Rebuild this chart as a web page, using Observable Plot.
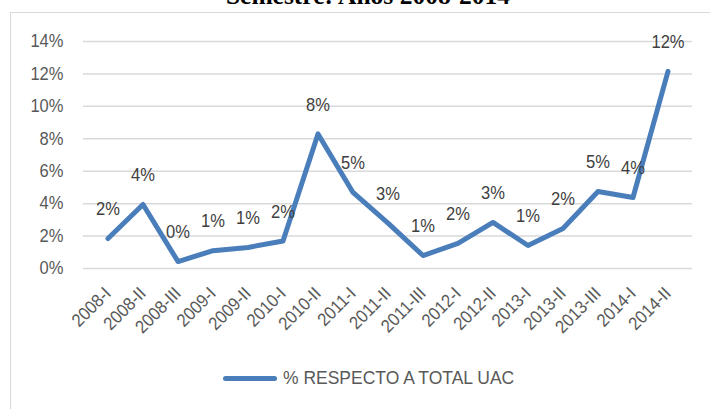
<!DOCTYPE html>
<html>
<head>
<meta charset="utf-8">
<script src="https://cdn.jsdelivr.net/npm/d3@7"></script>
<script src="https://cdn.jsdelivr.net/npm/@observablehq/plot@0.6"></script>
<style>
  html, body { margin: 0; padding: 0; background: #fff; }
  #wrap { position: relative; width: 710px; height: 409px; overflow: hidden; background: #fff; }
  #title { position: absolute; left: 0; width: 736px; top: -19px; text-align: center;
           font-family: "Liberation Serif", "DejaVu Serif", serif; font-weight: bold; font-size: 25.5px; color: #000; white-space: nowrap; }
  #frame { position: absolute; left: 10px; top: 12px; width: 800px; height: 500px;
           border: 1.5px solid #d9d9d9; box-sizing: border-box; }
  #chart { position: absolute; left: 0; top: 0; }
  #legend { position: absolute; left: 223px; top: 367px; display: flex; align-items: center;
            font-family: "Liberation Sans", Arial, sans-serif;
            font-size: 19px; color: #595959; white-space: nowrap; }
  #legend .sw { width: 54px; height: 5px; border-radius: 3px; background: #4a7ebb; margin-right: 6px; }
  #legend span { display: inline-block; transform: scaleX(0.92); transform-origin: 0 50%; }
</style>
</head>
<body>
<div id="wrap">
  <div id="title">Semestre: Años 2008-2014</div>
  <div id="frame"></div>
  <div id="chart"></div>
  <div id="legend"><div class="sw"></div><span>% RESPECTO A TOTAL UAC</span></div>
</div>
<script>
const categories = ["2008-I","2008-II","2008-III","2009-I","2009-II","2010-I","2010-II","2011-I","2011-II","2011-III","2012-I","2012-II","2013-I","2013-II","2013-III","2014-I","2014-II"];
const values = [1.85, 3.95, 0.43, 1.1, 1.3, 1.7, 8.3, 4.69, 2.8, 0.8, 1.55, 2.84, 1.42, 2.47, 4.75, 4.38, 12.16];
const yTicks = [0, 2, 4, 6, 8, 10, 12, 14];
const seriesName = "% RESPECTO A TOTAL UAC";

const data = categories.map((c, i) => ({cat: c, v: values[i]}));
const font = '"Liberation Sans", Arial, sans-serif';

const chart = Plot.plot({
  width: 710,
  height: 345,
  marginTop: 41,
  marginBottom: 77,
  marginLeft: 83,
  marginRight: 18,
  style: {fontFamily: font, fontSize: "18px", color: "#595959", background: "transparent", overflow: "visible"},
  x: {type: "band", domain: categories, padding: 0},
  y: {domain: [0, 14]},
  marks: [
    Plot.ruleY(yTicks, {stroke: "#d9d9d9", strokeWidth: 1.5}),
    Plot.axisY(yTicks, {tickSize: 0, tickPadding: 20, tickFormat: d => d + "%", label: null, fill: "#595959", fontSize: 18, textAnchor: "end"}),
    Plot.axisX({tickSize: 0, tickRotate: -45, tickPadding: 22, label: null, fill: "#595959", fontSize: 18}),
    Plot.line(data, {x: "cat", y: "v", stroke: "#4a7ebb", strokeWidth: 5, strokeLinejoin: "round", strokeLinecap: "round"}),
    Plot.text(data, {x: "cat", y: "v", text: d => Math.round(d.v) + "%", dy: -29, fill: "#404040", fontSize: 18})
  ]
});
// slightly condense text along its own direction (reference face is narrower)
chart.querySelectorAll("text").forEach(t => {
  const tr = t.getAttribute("transform");
  if (tr) t.setAttribute("transform", tr + " scale(0.92,1)");
});
document.getElementById("chart").appendChild(chart);
document.getElementById("legend").querySelector("span").textContent = seriesName;
</script>
</body>
</html>
